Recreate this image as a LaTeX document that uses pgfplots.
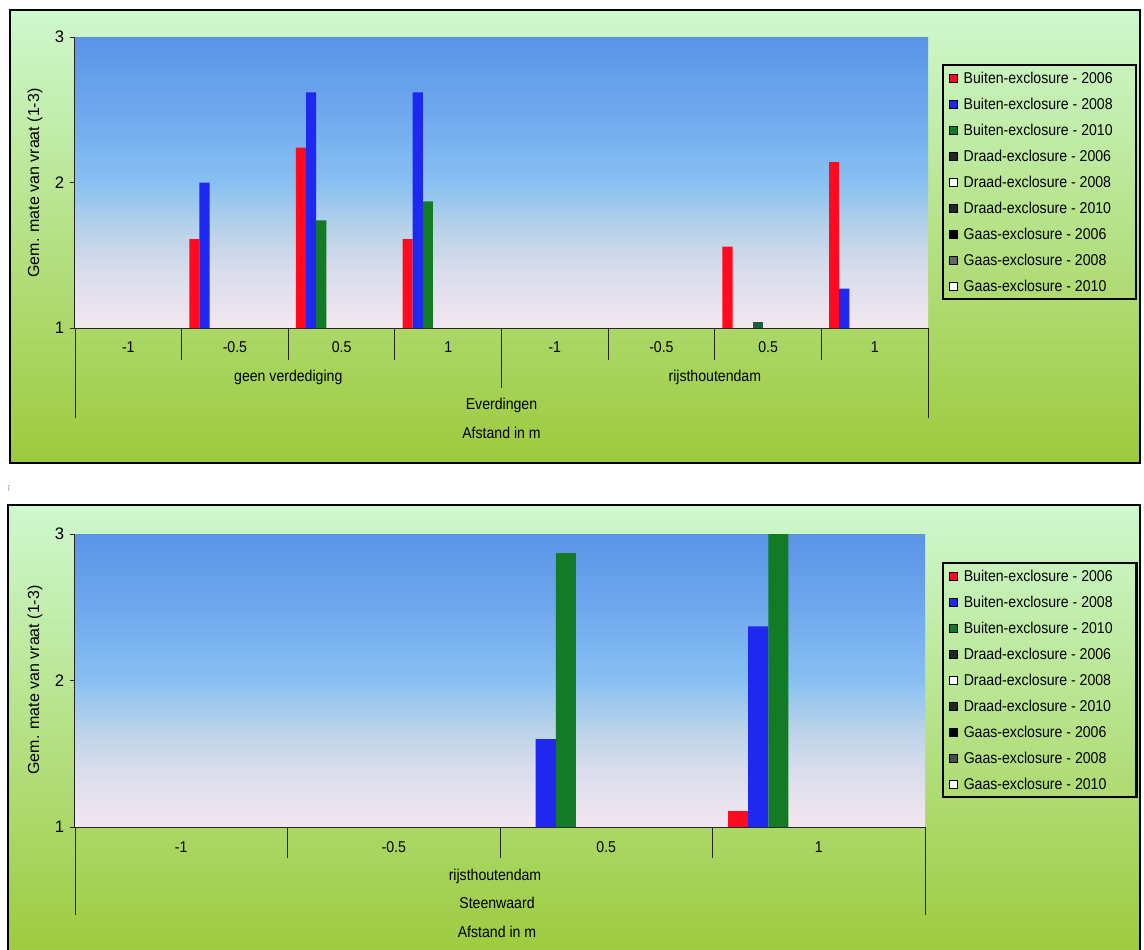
\documentclass[border=0pt]{standalone}
\usepackage{fontspec}
\setmainfont{Liberation Sans}[FakeStretch=0.9]
\newfontfamily\ylfont{Liberation Sans}
\usepackage{pgfplots}
\pgfplotsset{compat=1.18}
\definecolor{cred}{HTML}{FF0A1E}
\definecolor{cblue}{HTML}{1E28F0}
\definecolor{cgreen}{HTML}{137A25}
\definecolor{cdgreen}{HTML}{1C5E3A}
\definecolor{bgtop}{HTML}{CEF8CE}
\definecolor{bgmid}{HTML}{B4E08C}
\definecolor{bgbot}{HTML}{9CCA3C}
\pgfdeclareverticalshading{plotbg}{100bp}{rgb(0bp)=(0.953,0.906,0.937); rgb(25bp)=(0.953,0.906,0.937); rgb(35bp)=(0.847,0.863,0.925); rgb(42bp)=(0.722,0.824,0.91); rgb(50bp)=(0.533,0.753,0.949); rgb(62bp)=(0.439,0.659,0.933); rgb(75bp)=(0.353,0.58,0.902); rgb(100bp)=(0.353,0.58,0.902)}
\newcommand{\tickfont}{\fontsize{9.4}{11}\selectfont}
\newcommand{\ytickfont}{\ylfont\fontsize{10}{12}\selectfont}
\newcommand{\legtxt}[1]{\makebox[100pt][l]{#1}}
\pgfplotsset{
  sqleg/.style={legend image code/.code={\draw[fill=#1, draw=black, line width=0.4pt] (0pt,-2.4pt) rectangle (4.8pt,2.4pt);}},
  mychart/.style={
    anchor=south west, scale only axis,
    ymin=1, ymax=3, xmin=0,
    axis x line*=bottom, axis y line*=left,
    axis line style={-, black!85, line width=0.6pt},
    xtick align=inside, ytick align=outside,
    major x tick style={draw=none},
    major y tick style={black!85, line width=0.6pt},
    major tick length=3pt,
    xticklabel style={anchor=base, font=\tickfont},
    ytick={1,2,3}, yticklabels={1,2,3},
    yticklabel style={font=\ytickfont},
    legend cell align=left,
    legend style={anchor=north west, draw=black, line width=1.3pt, fill=none,
      font=\tickfont, inner xsep=3.6pt, inner ysep=4pt, row sep=8.3pt,
      nodes={inner sep=0pt, text height=6.8pt, text depth=0.5pt},
      /tikz/every odd column/.append style={column sep=3.6pt}},
  },
  bars/.style={ybar, bar width=0.095, draw=none},
}
\begin{document}
\begin{tikzpicture}
\path[use as bounding box] (0pt,0pt) rectangle (686.4pt,-570pt);
\begin{scope}[x=0.6pt,y=-0.6pt]
\shade[top color=bgtop, middle color=bgmid, bottom color=bgbot] (10,10) rectangle (1140,463);
\shade[shading=plotbg] (75,37) rectangle (928,328);
\shade[top color=bgtop, middle color=bgmid, bottom color=bgbot] (8,505) rectangle (1140,960);
\shade[shading=plotbg] (75,534) rectangle (925,827);
\node[font=\fontsize{5}{5}\selectfont, text=black!50] at (9,488) {ǐ};
\end{scope}

% ---------- top chart: Everdingen
\begin{axis}[mychart, at={(45pt,-196.8pt)}, width=511.8pt, height=174.6pt, xmax=8,
  xtick={0.5,1.5,2.5,3.5,4.5,5.5,6.5,7.5},
  xticklabels={-1,-0.5,0.5,1,-1,-0.5,0.5,1},
  xticklabel style={yshift=-14.7pt},
  legend style={at={(axis description cs:1.0164,0.9072)}}]
\addplot[bars, bar shift=-0.38, fill=cred, sqleg=cred] coordinates {(1.5,1.61) (2.5,2.24) (3.5,1.61) (6.5,1.56) (7.5,2.14)};
\addlegendentry{\legtxt{Buiten-exclosure - 2006}}
\addplot[bars, bar shift=-0.285, fill=cblue, sqleg=cblue] coordinates {(1.5,2.0) (2.5,2.62) (3.5,2.62) (7.5,1.27)};
\addlegendentry{\legtxt{Buiten-exclosure - 2008}}
\addplot[bars, bar shift=-0.19, fill=cgreen, sqleg=cgreen] coordinates {(2.5,1.74) (3.5,1.87)};
\addlegendentry{\legtxt{Buiten-exclosure - 2010}}
\addplot[bars, bar shift=-0.095, fill=cdgreen, sqleg=black!85] coordinates {(6.5,1.04)};
\addlegendentry{\legtxt{Draad-exclosure - 2006}}
\addlegendimage{sqleg=white}
\addlegendentry{\legtxt{Draad-exclosure - 2008}}
\addlegendimage{sqleg=black!85}
\addlegendentry{\legtxt{Draad-exclosure - 2010}}
\addlegendimage{sqleg=black}
\addlegendentry{\legtxt{Gaas-exclosure - 2006}}
\addlegendimage{sqleg=black!60}
\addlegendentry{\legtxt{Gaas-exclosure - 2008}}
\addlegendimage{sqleg=white}
\addlegendentry{\legtxt{Gaas-exclosure - 2010}}
\end{axis}

% ---------- bottom chart: Steenwaard
\begin{axis}[mychart, at={(45pt,-496.2pt)}, width=510pt, height=175.8pt, xmax=4,
  xtick={0.5,1.5,2.5,3.5},
  xticklabels={-1,-0.5,0.5,1},
  xticklabel style={yshift=-15.3pt},
  legend style={at={(axis description cs:1.02,0.9044)}}]
\addplot[bars, bar shift=-0.38, fill=cred, sqleg=cred] coordinates {(3.5,1.11)};
\addlegendentry{\legtxt{Buiten-exclosure - 2006}}
\addplot[bars, bar shift=-0.285, fill=cblue, sqleg=cblue] coordinates {(2.5,1.6) (3.5,2.37)};
\addlegendentry{\legtxt{Buiten-exclosure - 2008}}
\addplot[bars, bar shift=-0.19, fill=cgreen, sqleg=cgreen] coordinates {(2.5,2.87) (3.5,3.0)};
\addlegendentry{\legtxt{Buiten-exclosure - 2010}}
\addlegendimage{sqleg=black!85}
\addlegendentry{\legtxt{Draad-exclosure - 2006}}
\addlegendimage{sqleg=white}
\addlegendentry{\legtxt{Draad-exclosure - 2008}}
\addlegendimage{sqleg=black!85}
\addlegendentry{\legtxt{Draad-exclosure - 2010}}
\addlegendimage{sqleg=black}
\addlegendentry{\legtxt{Gaas-exclosure - 2006}}
\addlegendimage{sqleg=black!70}
\addlegendentry{\legtxt{Gaas-exclosure - 2008}}
\addlegendimage{sqleg=white}
\addlegendentry{\legtxt{Gaas-exclosure - 2010}}
\end{axis}

\begin{scope}[x=0.6pt,y=-0.6pt]
\begin{scope}[black!85, line width=0.6pt]
\draw (75,328) -- (75,418);
\draw (928,328) -- (928,418);
\foreach \x in {181.6,288.3,394.9,608.1,714.8,821.4} \draw (\x,328) -- (\x,360);
\draw (501.5,328) -- (501.5,388);
\draw (75,827) -- (75,915);
\draw (925,827) -- (925,915);
\foreach \x in {287.5,500,712.5} \draw (\x,827) -- (\x,858);
\end{scope}
\node[anchor=base, font=\tickfont] at (288.3,381) {geen verdediging};
\node[anchor=base, font=\tickfont] at (714.8,381) {rijsthoutendam};
\node[anchor=base, font=\tickfont] at (501.5,409) {Everdingen};
\node[anchor=base, font=\tickfont] at (501.5,438) {Afstand in m};
\node[anchor=base, font=\tickfont] at (495,880) {rijsthoutendam};
\node[anchor=base, font=\tickfont] at (497,908) {Steenwaard};
\node[anchor=base, font=\tickfont] at (497,937) {Afstand in m};
\node[rotate=90, font=\ylfont\fontsize{9.6}{11}\selectfont] at (35,183) {Gem. mate van vraat (1-3)};
\node[rotate=90, font=\ylfont\fontsize{9.6}{11}\selectfont] at (35,680) {Gem. mate van vraat (1-3)};
\draw[line width=1.5pt] (10,10) rectangle (1140,463);
\draw[line width=1.5pt] (8,505) rectangle (1140,965);
\end{scope}
\end{tikzpicture}
\end{document}
